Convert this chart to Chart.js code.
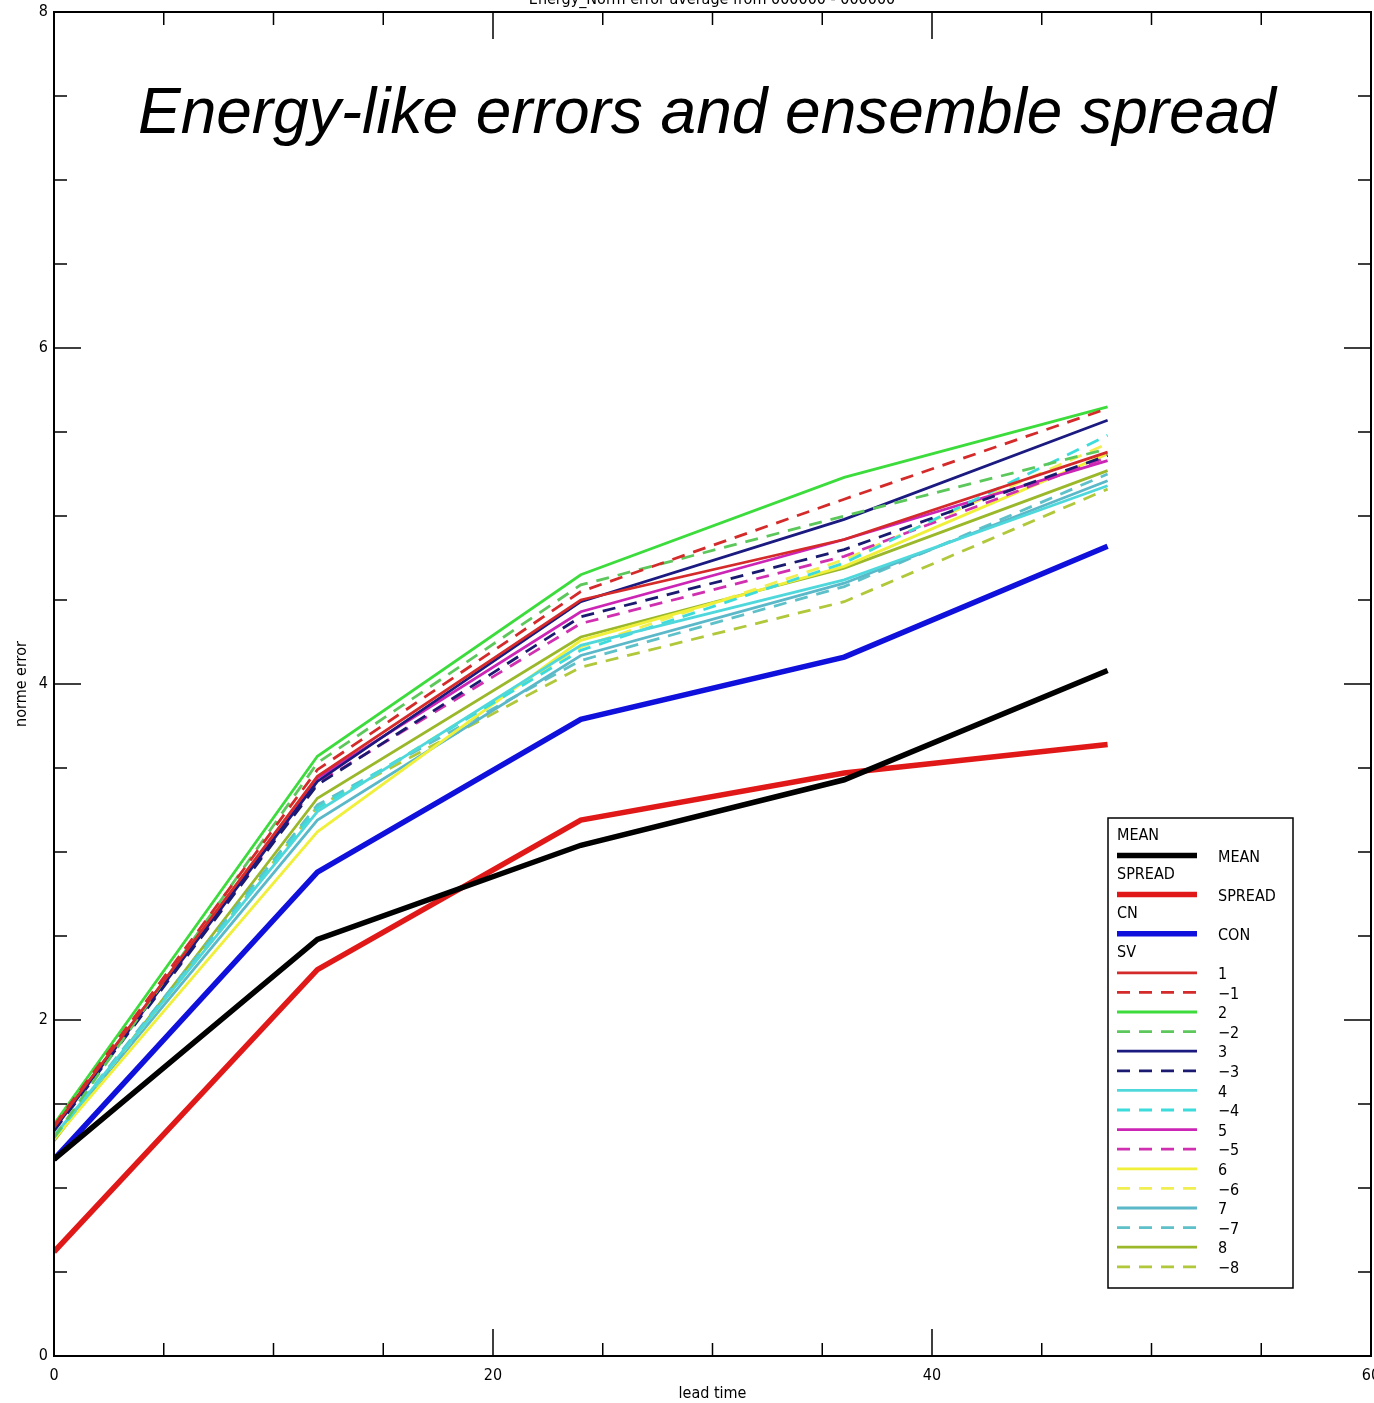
<!DOCTYPE html>
<html>

<head>
  <meta charset="utf-8">
  <title>Energy-like errors and ensemble spread</title>
  <style>
    body {
      background-color: #FFF;
      margin: 0;
      padding: 0;
    }

    canvas {
      display: block;
    }
  </style>
</head>

<body>
  <canvas id="errChart" width="1374" height="1403"></canvas>

  <script src="https://cdn.jsdelivr.net/npm/chart.js"></script>

  <script>
    // Lead times (hours)
    const leadTimes = [0, 12, 24, 36, 48];

    // Thick summary curves
    const meanErr = [1.17, 2.48, 3.04, 3.43, 4.08];
    const spread = [0.62, 2.30, 3.19, 3.47, 3.64];
    const control = [1.17, 2.88, 3.79, 4.16, 4.82];

    // Singular-vector perturbed members
    const sv1 = [1.36, 3.45, 4.50, 4.86, 5.38];
    const svM1 = [1.37, 3.49, 4.55, 5.10, 5.64];
    const sv2 = [1.38, 3.57, 4.65, 5.23, 5.65];
    const svM2 = [1.30, 3.53, 4.59, 5.00, 5.40];
    const sv3 = [1.35, 3.42, 4.49, 4.98, 5.57];
    const svM3 = [1.34, 3.40, 4.40, 4.80, 5.36];
    const sv4 = [1.31, 3.24, 4.23, 4.62, 5.18];
    const svM4 = [1.30, 3.26, 4.20, 4.72, 5.48];
    const sv5 = [1.36, 3.44, 4.43, 4.86, 5.33];
    const svM5 = [1.35, 3.41, 4.36, 4.76, 5.35];
    const sv6 = [1.29, 3.12, 4.26, 4.70, 5.37];
    const svM6 = [1.30, 3.25, 4.22, 4.74, 5.43];
    const sv7 = [1.30, 3.19, 4.17, 4.60, 5.21];
    const svM7 = [1.31, 3.28, 4.14, 4.58, 5.25];
    const sv8 = [1.28, 3.32, 4.28, 4.69, 5.27];
    const svM8 = [1.29, 3.27, 4.10, 4.49, 5.16];

    // Axis ticks
    const xTicks = [0, 20, 40, 60];
    const yTicks = [0, 2, 4, 6, 8];

    const labelFont = '"Liberation Sans Narrow", "DejaVu Sans Condensed", sans-serif';

    function pts(vals) {
      return vals.map((v, i) => ({ x: leadTimes[i], y: v }));
    }

    function line(label, vals, color, width, dashed, group) {
      return {
        label: label,
        data: pts(vals),
        borderColor: color,
        backgroundColor: color,
        borderWidth: width,
        borderDash: dashed ? [13, 9] : [],
        pointRadius: 0,
        tension: 0,
        fill: false,
        group: group
      };
    }

    const datasets = [
      line('MEAN', meanErr, '#000000', 5.5, false, 'MEAN'),
      line('SPREAD', spread, '#e01818', 5.5, false, 'SPREAD'),
      line('CON', control, '#1010dc', 5.5, false, 'CN'),
      line('1', sv1, '#d42a2a', 2.8, false, 'SV'),
      line('\u22121', svM1, '#d42a2a', 2.8, true),
      line('2', sv2, '#3ddc3d', 2.8, false),
      line('\u22122', svM2, '#5cc85c', 2.8, true),
      line('3', sv3, '#1a1a80', 2.8, false),
      line('\u22123', svM3, '#1a1a70', 2.8, true),
      line('4', sv4, '#4fd8dc', 2.8, false),
      line('\u22124', svM4, '#3ddcdc', 2.8, true),
      line('5', sv5, '#cc25b5', 2.8, false),
      line('\u22125', svM5, '#d030b0', 2.8, true),
      line('6', sv6, '#f0f03a', 2.8, false),
      line('\u22126', svM6, '#f0ee50', 2.8, true),
      line('7', sv7, '#5ab8c8', 2.8, false),
      line('\u22127', svM7, '#5ec0c8', 2.8, true),
      line('8', sv8, '#9ab82a', 2.8, false),
      line('\u22128', svM8, '#b0c83a', 2.8, true)
    ];

    // IDL-style frame, inward ticks, titles and legend box
    const idlDecor = {
      id: 'idlDecor',
      afterDraw(chart) {
        const ctx = chart.ctx;
        const a = chart.chartArea;
        const xs = chart.scales.x;
        const ys = chart.scales.y;
        ctx.save();
        ctx.strokeStyle = '#000';
        ctx.lineWidth = 2;
        ctx.strokeRect(a.left, a.top, a.right - a.left, a.bottom - a.top);

        ctx.lineWidth = 1.5;
        ctx.beginPath();
        for (let v = 0; v <= 60; v += 5) {
          const px = xs.getPixelForValue(v);
          const len = v % 20 === 0 ? 27 : 13;
          ctx.moveTo(px, a.bottom); ctx.lineTo(px, a.bottom - len);
          ctx.moveTo(px, a.top); ctx.lineTo(px, a.top + len);
        }
        for (let v = 0; v <= 8; v += 0.5) {
          const py = ys.getPixelForValue(v);
          const len = v % 2 === 0 ? 27 : 13;
          ctx.moveTo(a.left, py); ctx.lineTo(a.left + len, py);
          ctx.moveTo(a.right, py); ctx.lineTo(a.right - len, py);
        }
        ctx.stroke();

        // small original plot title, clipped at the top edge
        ctx.fillStyle = '#000';
        ctx.font = '16px ' + labelFont;
        ctx.textAlign = 'center';
        ctx.textBaseline = 'middle';
        ctx.fillText('Energy_Norm error average from 000000 - 000000', 712, 0);

        // overlaid slide title
        const title = 'Energy-like errors and ensemble spread';
        let size = 64;
        ctx.font = 'italic ' + size + 'px "Liberation Sans", Arial, sans-serif';
        size = size * 1138 / ctx.measureText(title).width;
        ctx.font = 'italic ' + size + 'px "Liberation Sans", Arial, sans-serif';
        ctx.textAlign = 'left';
        ctx.textBaseline = 'alphabetic';
        ctx.fillText(title, 138, 133);

        // legend
        const bx = 1108, by = 818, bw = 185, bh = 470;
        ctx.fillStyle = '#fff';
        ctx.fillRect(bx, by, bw, bh);
        ctx.lineWidth = 1.5;
        ctx.strokeStyle = '#000';
        ctx.strokeRect(bx, by, bw, bh);
        ctx.font = '16px ' + labelFont;
        ctx.fillStyle = '#000';
        ctx.textBaseline = 'middle';
        let y = by + 18;
        chart.data.datasets.forEach(ds => {
          if (ds.group) {
            ctx.textAlign = 'left';
            ctx.fillText(ds.group, bx + 9, y);
            y += 19.5;
          }
          ctx.save();
          ctx.strokeStyle = ds.borderColor;
          ctx.lineWidth = ds.borderWidth;
          ctx.setLineDash(ds.borderDash);
          ctx.beginPath();
          ctx.moveTo(bx + 9, y);
          ctx.lineTo(bx + 89, y);
          ctx.stroke();
          ctx.restore();
          ctx.fillText(ds.label, bx + 110, y + 2);
          y += 19.6;
        });
        ctx.restore();
      }
    };

    const ctx = document.getElementById('errChart').getContext('2d');
    const errChart = new Chart(ctx, {
      type: 'line',
      data: { datasets: datasets },
      plugins: [idlDecor],
      options: {
        responsive: false,
        animation: false,
        layout: { padding: { top: 12, right: 3, left: 0, bottom: 0 } },
        plugins: {
          legend: { display: false },
          tooltip: { enabled: false }
        },
        scales: {
          x: {
            type: 'linear',
            min: 0,
            max: 60,
            afterFit: s => { s.height = 47; s.paddingLeft = 0; s.paddingRight = 0; },
            afterBuildTicks: s => { s.ticks = xTicks.map(v => ({ value: v })); },
            grid: { display: false, drawTicks: false },
            border: { display: false },
            ticks: { color: '#000', padding: 10, maxRotation: 0, font: { family: labelFont, size: 16 } },
            title: { display: true, text: 'lead time', color: '#000', padding: { top: 0, bottom: 0 }, font: { family: labelFont, size: 16 } }
          },
          y: {
            min: 0,
            max: 8,
            afterFit: s => { s.width = 54; s.paddingTop = 0; s.paddingBottom = 0; },
            afterBuildTicks: s => { s.ticks = yTicks.map(v => ({ value: v })); },
            grid: { display: false, drawTicks: false },
            border: { display: false },
            ticks: { color: '#000', padding: 6, font: { family: labelFont, size: 16 } },
            title: { display: true, text: 'norme error', color: '#000', padding: { top: 12, bottom: 0 }, font: { family: labelFont, size: 16 } }
          }
        }
      }
    });
  </script>
</body>

</html>
